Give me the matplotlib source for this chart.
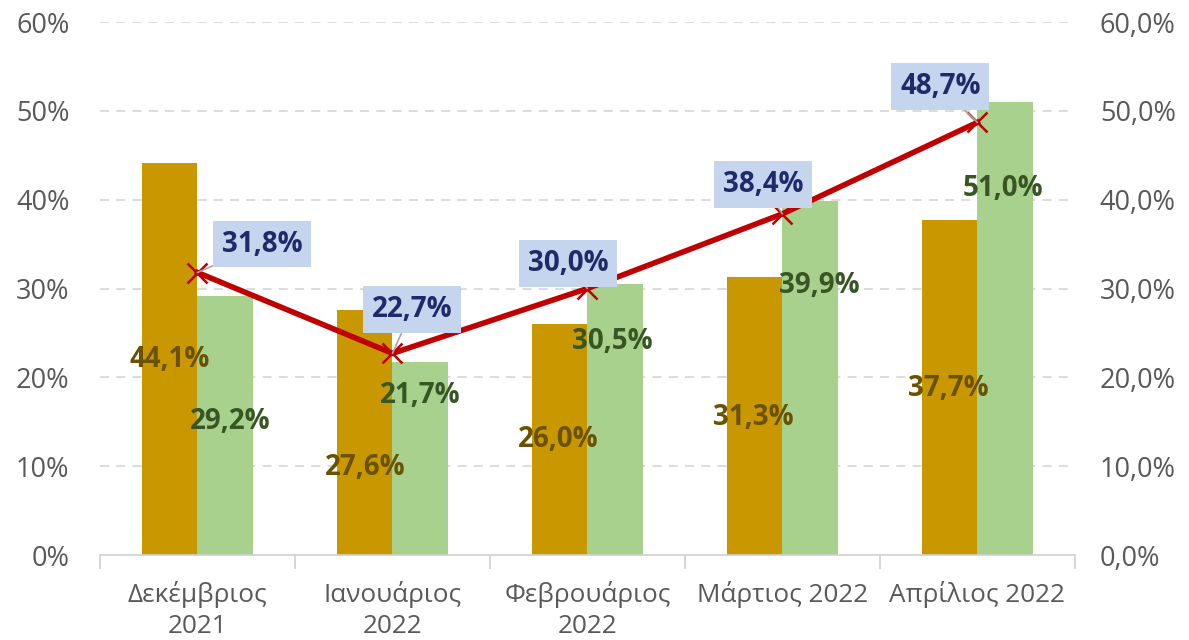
import matplotlib
matplotlib.use("Agg")
import matplotlib.pyplot as plt
import numpy as np

categories = ["Δεκέμβριος\n2021", "Ιανουάριος\n2022", "Φεβρουάριος\n2022", "Μάρτιος 2022", "Απρίλιος 2022"]
gold_values = [44.1, 27.6, 26.0, 31.3, 37.7]
green_values = [29.2, 21.7, 30.5, 39.9, 51.0]
line_values = [31.8, 22.7, 30.0, 38.4, 48.7]

# label placements (data coords)
gold_label_pos = [(-0.14, 22.0), (0.86, 9.8), (1.85, 12.95), (2.85, 15.5), (3.85, 18.8)]
green_label_pos = [(0.17, 15.0), (1.14, 17.9), (2.13, 24.0), (3.19, 30.3), (4.13, 41.3)]
line_label_pos = [(0.33, 35.0), (1.10, 27.6), (1.90, 32.8), (2.90, 41.7), (3.81, 52.7)]

plt.rcParams['font.family'] = ['Open Sans', 'DejaVu Sans']

fig = plt.figure(figsize=(11.89, 6.40), dpi=100)
ax = fig.add_axes([0.0841, 0.1328, 0.904 - 0.0841, 0.9656 - 0.1328])
ax2 = ax.twinx()

x = np.arange(len(categories))
w = 0.285
gold = "#C99700"
green = "#A9D18E"
ax.bar(x - w / 2, gold_values, width=w, color=gold, zorder=2)
ax.bar(x + w / 2, green_values, width=w, color=green, zorder=2)

ax.set_xlim(-0.5, len(categories) - 0.5)
ax.set_ylim(0, 60)
ax2.set_ylim(0, 60)
ax.set_yticks(range(0, 61, 10))
ax.set_yticklabels([f"{v}%" for v in range(0, 61, 10)])
ax2.set_yticks(range(0, 61, 10))
ax2.set_yticklabels([f"{v},0%" for v in range(0, 61, 10)])

for a in (ax, ax2):
    for s in ("left", "right", "top"):
        a.spines[s].set_visible(False)
    a.tick_params(axis="y", length=0, labelsize=19.5, labelcolor="#595959")
ax.tick_params(axis="y", pad=22)
ax2.tick_params(axis="y", pad=18)
ax2.spines["bottom"].set_visible(False)
ax.spines["bottom"].set_color("#D0D0D0")
ax.spines["bottom"].set_linewidth(1.2)

for v in range(10, 61, 10):
    ax.axhline(v, color="#D9D9D9", linestyle=(0, (5, 4)), linewidth=1.3, zorder=1)

ax.set_xticks(x)
ax.set_xticklabels(categories, fontsize=18.8, color="#595959", linespacing=1.3)
ax.tick_params(axis="x", length=0, pad=19)
ax.set_xticks(np.arange(-0.5, len(categories), 1.0), minor=True)
ax.tick_params(axis="x", which="minor", length=10, color="#D0D0D0", width=1.2)

ax.plot(x, line_values, color="#C00000", linewidth=4, marker="x", markersize=15,
        markeredgewidth=1.8, zorder=5)

fs = 20
for v, (px, py) in zip(gold_values, gold_label_pos):
    ax.text(px, py, f"{v:.1f}%".replace(".", ","), ha="center", va="center",
            fontsize=fs, fontweight="bold", color="#6B5200", zorder=6)
for v, (px, py) in zip(green_values, green_label_pos):
    ax.text(px, py, f"{v:.1f}%".replace(".", ","), ha="center", va="center",
            fontsize=fs, fontweight="bold", color="#375623", zorder=6)
for xi, v, (px, py) in zip(x, line_values, line_label_pos):
    ax.annotate(f"{v:.1f}%".replace(".", ","), xy=(xi, v), xytext=(px, py),
                ha="center", va="center", fontsize=fs, fontweight="bold", color="#1F2A6B",
                bbox=dict(boxstyle="square,pad=0.32", fc="#C5D5EE", ec="none"),
                arrowprops=dict(arrowstyle="-", color="#A6A6A6", lw=1.2,
                                shrinkA=0, shrinkB=0), zorder=7)

fig.savefig("out.png", dpi=100)
